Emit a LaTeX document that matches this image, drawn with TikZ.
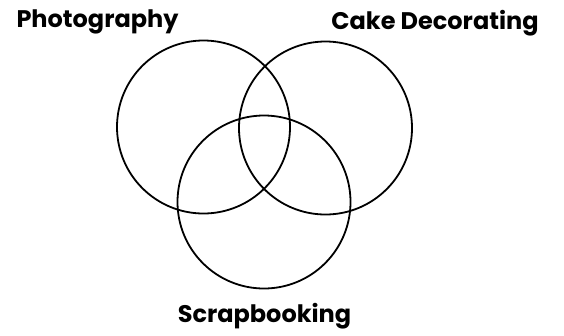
\documentclass[tikz,border=0pt]{standalone}
\usepackage{fontspec}
\setmainfont{Poppins}
\begin{document}
\begin{tikzpicture}[x=1pt, y=-1pt, every node/.style={font=\fontsize{24}{24}\selectfont\bfseries}, ring/.style={draw, circle, line width=1.8pt, minimum size=173pt, inner sep=0pt}, lbl/.style={anchor=base, inner sep=0pt}]
	\useasboundingbox (0,0) rectangle (564,335);
	\node[ring] (photo) at (203.5,127) {};
	\node[ring] (cake) at (325.5,128) {};
	\node[ring] (scrap) at (264,202) {};
	\node[lbl] (photolbl) at (97.5,27.5) {Photography};
	\node[lbl] (cakelbl) at (435,29.5) {Cake Decorating};
	\node[lbl] (scraplbl) at (264.5,322) {Scrapbooking};
\end{tikzpicture}
\end{document}
